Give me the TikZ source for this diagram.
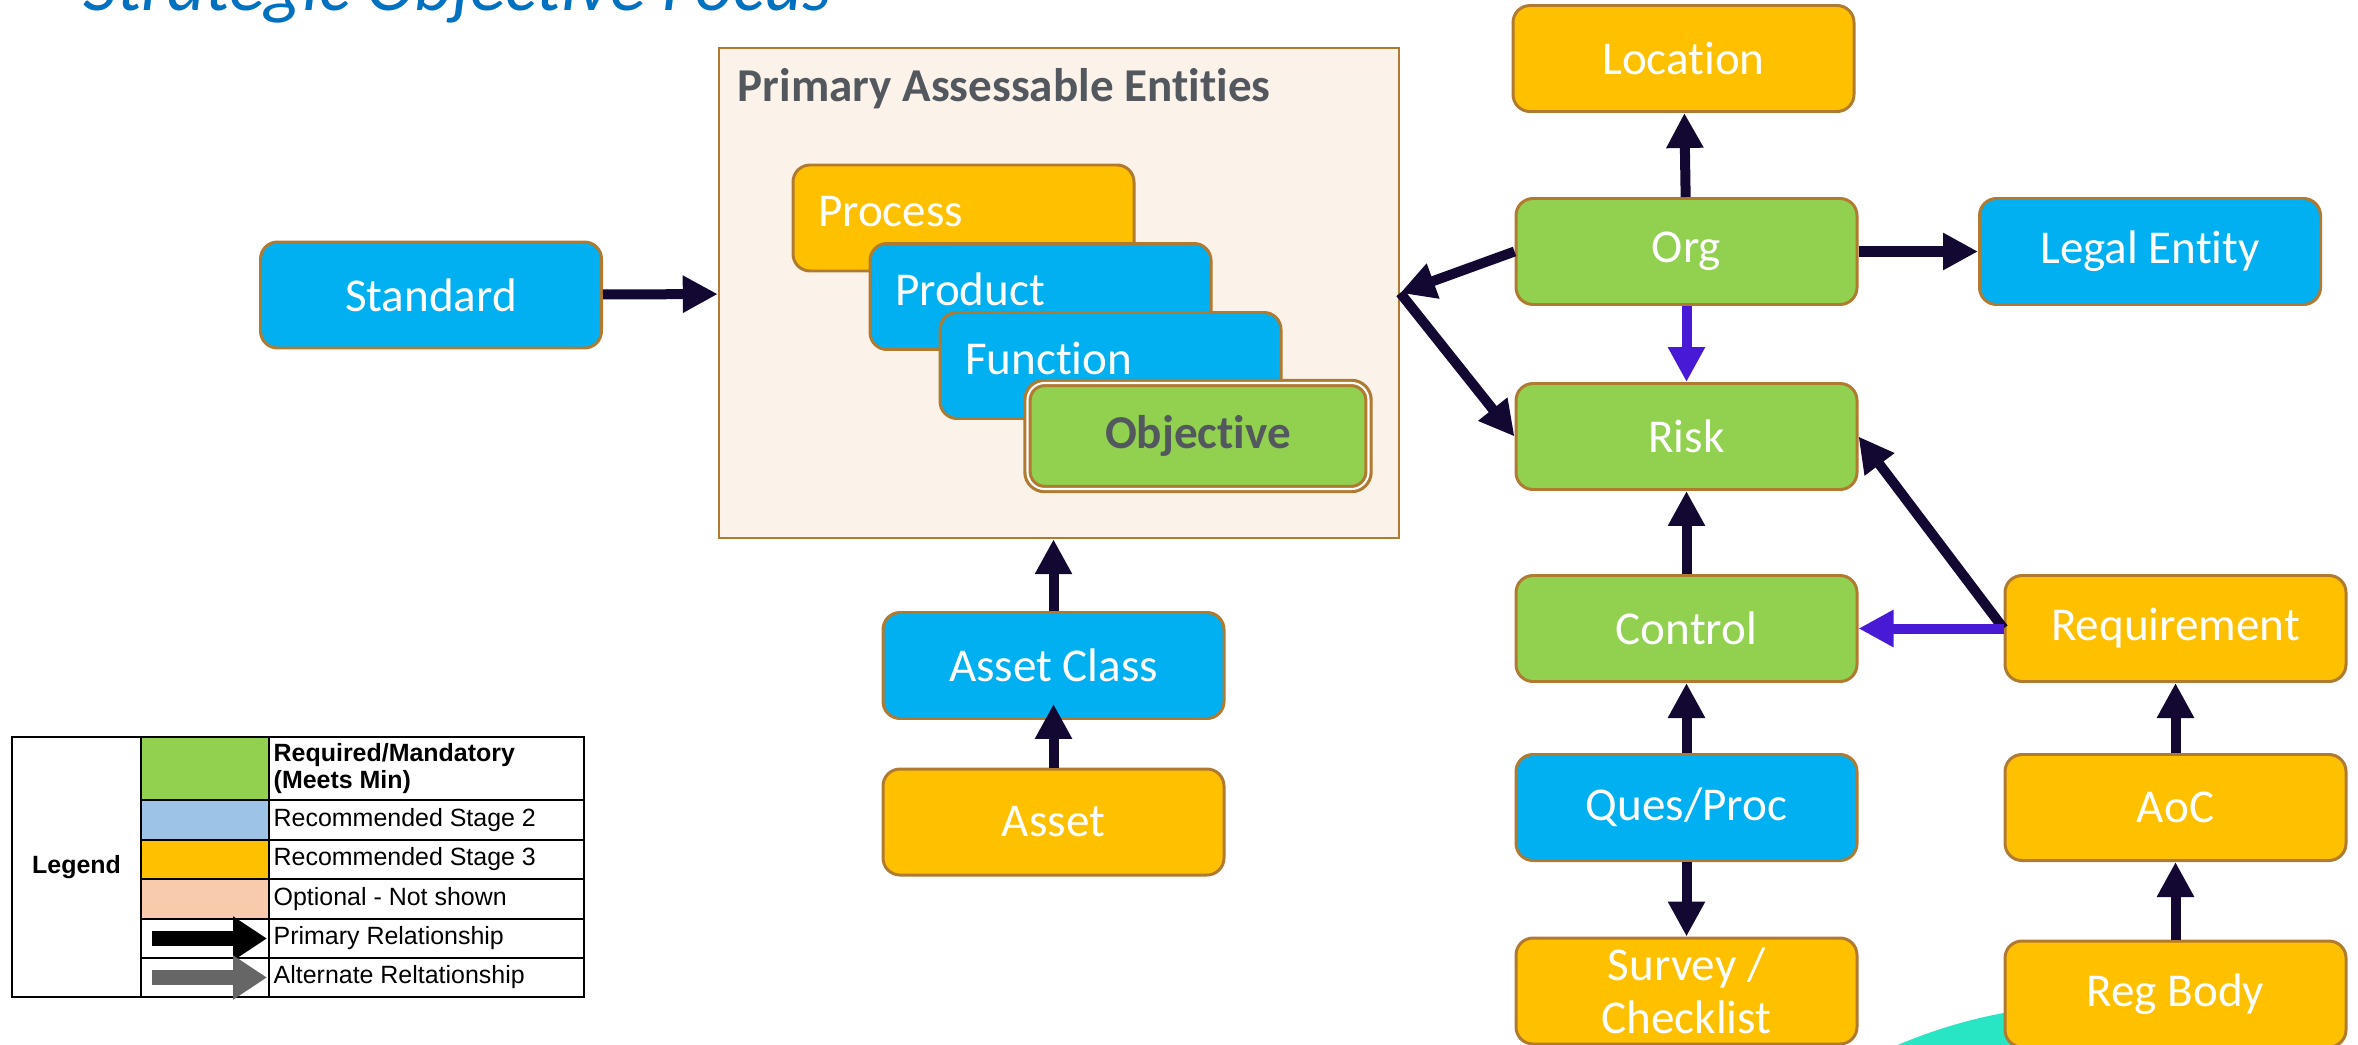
\documentclass[tikz,border=0pt]{standalone}
\usepackage{fontspec}
\setmainfont{Carlito}[Ligatures={NoCommon}]
\newfontfamily\legendfont{Liberation Sans}
\usetikzlibrary{arrows.meta}

\definecolor{mandgreen}{RGB}{146,208,80}
\definecolor{stagetwoblue}{RGB}{0,176,240}
\definecolor{stagethreegold}{RGB}{255,192,0}
\definecolor{boxline}{RGB}{176,122,48}
\definecolor{paefill}{RGB}{251,243,234}
\definecolor{inkgray}{RGB}{83,88,95}
\definecolor{arrowink}{RGB}{18,8,50}
\definecolor{altink}{RGB}{72,26,214}
\definecolor{titleblue}{RGB}{0,112,192}
\definecolor{decoteal}{RGB}{40,230,196}
\definecolor{lgdblue}{RGB}{157,195,230}
\definecolor{lgdpeach}{RGB}{248,203,173}
\definecolor{lgdgray}{RGB}{102,102,102}

\newcommand{\boxfont}{\fontsize{13.4}{15}\selectfont}
\newcommand{\lgdfont}{\legendfont\fontsize{7.1}{7.8}\selectfont}

\tikzset{
  entitybox/.style={draw=boxline, line width=0.85pt, rounded corners=0.17cm,
    minimum width=3.41cm, minimum height=1.06cm, inner sep=0pt, align=center,
    text=white, font=\boxfont},
  mandatory/.style={entitybox, fill=mandgreen},
  stage two/.style={entitybox, fill=stagetwoblue},
  stage three/.style={entitybox, fill=stagethreegold},
  stacked/.style={text width=2.91cm, align=left, text depth=0.14cm},
  primary rel/.style={draw=arrowink, line width=0.1cm,
    -{Triangle[length=0.35cm,width=0.35cm]}},
  purple rel/.style={primary rel, draw=altink},
  lgdtext/.style={anchor=west, inner sep=0pt, font=\lgdfont}
}

\begin{document}
\begin{tikzpicture}
  \useasboundingbox (0,0) rectangle (23.58,10.44);
  \begin{scope}
    \clip (0,0) rectangle (23.58,10.44);
    \fill[decoteal] (21.0,-4.78) circle (5.18);
    \node[anchor=base west, inner sep=0pt, text=titleblue,
          font=\fontsize{21}{25}\selectfont\itshape] (title) at (0.83,10.33)
          {Strategic Objective Focus};
  \end{scope}

  \node[draw=boxline, line width=0.7pt, fill=paefill, minimum width=6.8cm,
        minimum height=4.9cm] (pae) at (10.59,7.51) {};
  \node[anchor=base west, inner sep=0pt, text=inkgray, font=\boxfont\bfseries]
       (paetitle) at (7.37,9.42) {Primary Assessable Entities};
  \node[stage three, stacked] (process) at (9.635,8.26) {Process};
  \node[stage two, stacked] (product) at (10.405,7.475) {Product};
  \node[stage two, stacked] (function) at (11.105,6.785) {Function};
  \node[mandatory, line width=0.9pt, double=white, double distance=0.6pt,
        text=inkgray, font=\boxfont\bfseries] (objective) at (11.98,6.08) {Objective};

  \node[stage two] (standard) at (4.31,7.49) {Standard};
  \node[stage two] (assetclass) at (10.535,3.785) {Asset Class};
  \node[stage three] (asset) at (10.535,2.22) {Asset};

  \node[stage three] (location) at (16.835,9.855) {Location};
  \node[mandatory] (org) at (16.865,7.925) {Org};
  \node[stage two] (legal) at (21.5,7.925) {Legal Entity};
  \node[mandatory] (risk) at (16.865,6.075) {Risk};
  \node[mandatory] (control) at (16.865,4.155) {Control};
  \node[stage three] (requirement) at (21.755,4.155) {Requirement};
  \node[stage two] (quesproc) at (16.865,2.365) {Ques/Proc};
  \node[stage three] (aoc) at (21.755,2.365) {AoC};
  \node[stage three] (survey) at (16.865,0.53) {Survey /\\Checklist};
  \node[stage three] (regbody) at (21.755,0.50) {Reg Body};

  \draw[primary rel] (standard) -- (pae);
  \draw[primary rel] (assetclass.north) -- (assetclass.north |- pae.south);
  \draw[primary rel, shorten >=-0.16cm] (asset) -- (assetclass);
  \draw[primary rel] (org) -- (location);
  \draw[primary rel] (org) -- (legal);
  \draw[primary rel] (org.west) -- (pae.east);
  \draw[primary rel] (pae.east) -- (risk.west);
  \draw[purple rel] (org) -- (risk);
  \draw[primary rel] (control) -- (risk);
  \draw[primary rel] (requirement.west) -- (risk.east);
  \draw[purple rel] (requirement) -- (control);
  \draw[primary rel] (quesproc) -- (control);
  \draw[primary rel] (quesproc) -- (survey);
  \draw[primary rel] (aoc) -- (requirement);
  \draw[primary rel] (regbody) -- (aoc);

  % legend
  \fill[mandgreen] (1.41,2.44) rectangle (2.69,3.07);
  \fill[lgdblue] (1.41,2.04) rectangle (2.69,2.44);
  \fill[stagethreegold] (1.41,1.65) rectangle (2.69,2.04);
  \fill[lgdpeach] (1.41,1.25) rectangle (2.69,1.65);
  \draw[line width=0.6pt] (1.41,0.47) -- (1.41,3.07) (2.69,0.47) -- (2.69,3.07)
       (1.41,2.44) -- (5.84,2.44) (1.41,2.04) -- (5.84,2.04)
       (1.41,1.65) -- (5.84,1.65) (1.41,1.25) -- (5.84,1.25)
       (1.41,0.86) -- (5.84,0.86);
  \draw[line width=0.8pt] (0.12,0.47) rectangle (5.84,3.07);
  \node[font=\lgdfont\bfseries] (lgdtitle) at (0.765,1.77) {Legend};
  \node[lgdtext, font=\lgdfont\bfseries, align=left] (lgdmand) at (2.73,2.755)
       {Required/Mandatory\\(Meets Min)};
  \node[lgdtext] (lgdtwo) at (2.73,2.24) {Recommended Stage 2};
  \node[lgdtext] (lgdthree) at (2.73,1.845) {Recommended Stage 3};
  \node[lgdtext] (lgdopt) at (2.73,1.45) {Optional - Not shown};
  \node[lgdtext] (lgdprim) at (2.73,1.055) {Primary Relationship};
  \node[lgdtext] (lgdalt) at (2.73,0.665) {Alternate Reltationship};
  \coordinate (primfrom) at (1.52,1.055);
  \coordinate (primto) at (2.67,1.055);
  \coordinate (altfrom) at (1.52,0.665);
  \coordinate (altto) at (2.67,0.665);
  \draw[black, line width=0.15cm, -{Triangle[length=0.34cm,width=0.42cm]}]
       (primfrom) -- (primto);
  \draw[lgdgray, line width=0.15cm, -{Triangle[length=0.34cm,width=0.42cm]}]
       (altfrom) -- (altto);
\end{tikzpicture}
\end{document}
